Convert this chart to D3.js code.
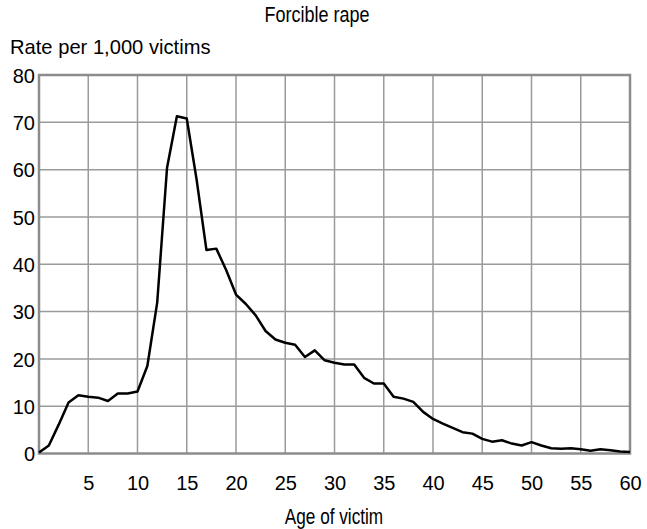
<!DOCTYPE html>
<html>
<head>
<meta charset="utf-8">
<script src="https://cdn.jsdelivr.net/npm/d3@7"></script>
<style>
html,body{margin:0;padding:0;background:#fff;}
text{font-family:"Liberation Sans",Arial,sans-serif;fill:#000;}
</style>
</head>
<body>
<svg id="chart" width="647" height="529"></svg>
<script>
const title = "Forcible rape";
const yAxisTitle = "Rate per 1,000 victims";
const xAxisTitle = "Age of victim";
const ages = d3.range(0, 61);
const rates = [0.2,1.7,6.1,10.8,12.3,12.0,11.8,11.1,12.7,12.7,
  13.1,18.5,31.9,60.4,71.3,70.8,57.9,43.0,43.3,38.8,
  33.6,31.6,29.2,25.9,24.1,23.4,23.0,20.4,21.8,19.7,
  19.2,18.8,18.8,16.0,14.8,14.8,12.0,11.6,10.9,8.8,
  7.3,6.3,5.4,4.5,4.2,3.1,2.5,2.8,2.1,1.7,
  2.4,1.7,1.1,1.0,1.1,0.9,0.6,0.9,0.7,0.4,0.3];
const xTicks = [5,10,15,20,25,30,35,40,45,50,55,60];
const yTicks = [0,10,20,30,40,50,60,70,80];

const svg = d3.select("#chart");
const pL = 39, pR = 630, pT = 75, pB = 453.5;
const x = d3.scaleLinear().domain([0,60]).range([pL,pR]);
const y = d3.scaleLinear().domain([0,80]).range([pB,pT]);

// grid
svg.append("g").selectAll("line").data(xTicks.filter(t=>t<60)).join("line")
  .attr("x1",d=>x(d)).attr("x2",d=>x(d)).attr("y1",pT).attr("y2",pB)
  .attr("stroke","#9a9a9a").attr("stroke-width",1.5);
svg.append("g").selectAll("line").data(yTicks.filter(t=>t>0&&t<80)).join("line")
  .attr("y1",d=>y(d)).attr("y2",d=>y(d)).attr("x1",pL).attr("x2",pR)
  .attr("stroke","#9a9a9a").attr("stroke-width",1.5);

// frame
svg.append("rect").attr("x",pL).attr("y",pT).attr("width",pR-pL).attr("height",pB-pT)
  .attr("fill","none").attr("stroke","#8c8c8c").attr("stroke-width",2.5);

// axes labels via d3 axes
const yAxis = svg.append("g").attr("transform",`translate(${pL},0)`)
  .call(d3.axisLeft(y).tickValues(yTicks).tickSize(0).tickPadding(4));
yAxis.select(".domain").remove();
yAxis.selectAll("text").attr("font-size",20).attr("font-family","Liberation Sans, Arial, sans-serif").attr("dy","0.36em");

const xAxis = svg.append("g").attr("transform",`translate(0,${pB})`)
  .call(d3.axisBottom(x).tickValues(xTicks).tickSize(0).tickPadding(22));
xAxis.select(".domain").remove();
xAxis.selectAll("text").attr("font-size",20).attr("font-family","Liberation Sans, Arial, sans-serif");

// line
svg.append("path").datum(ages.map((a,i)=>[a,rates[i]]))
  .attr("d",d3.line().x(d=>x(d[0])).y(d=>y(d[1])))
  .attr("fill","none").attr("stroke","#000").attr("stroke-width",2.5).attr("stroke-linejoin","round");

// titles
svg.append("text").attr("transform","translate(317,22) scale(0.8,1)").attr("text-anchor","middle").attr("font-size",22.5).text(title);
svg.append("text").attr("transform","translate(10,54) scale(0.96,1)").attr("font-size",21).text(yAxisTitle);
svg.append("text").attr("transform","translate(334,524) scale(0.8,1)").attr("text-anchor","middle").attr("font-size",21.5).text(xAxisTitle);
</script>
</body>
</html>
